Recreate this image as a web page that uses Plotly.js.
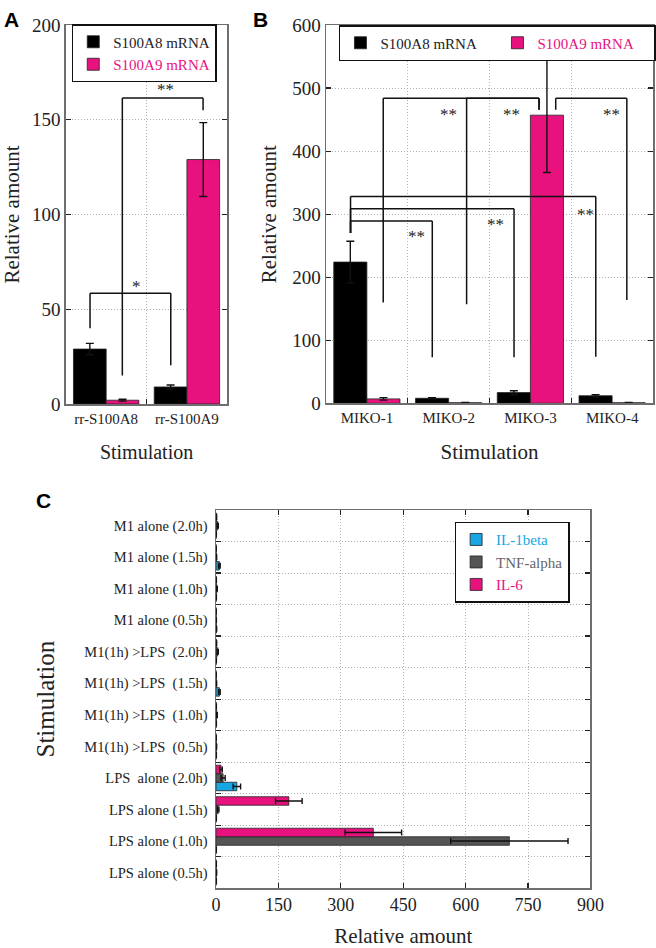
<!DOCTYPE html>
<html>
<head>
<meta charset="utf-8">
<script src="https://cdn.plot.ly/plotly-3.0.1.min.js"></script>
<style>html,body{margin:0;padding:0;background:#fff;}#chart{width:656px;height:948px;}</style>
</head>
<body>
<div id="chart"></div>
<script>
// ---------- Panel A data ----------
const catsA = ['rr-S100A8', 'rr-S100A9'];
const a8 = [29, 9];
const a8err = [3, 1];
const a9 = [2, 129];
const a9err = [0.5, 19.5];

// ---------- Panel B data ----------
const catsB = ['MIKO-1', 'MIKO-2', 'MIKO-3', 'MIKO-4'];
const b8 = [224, 8, 17, 12];
const b8err = [33, 1, 3, 1.5];
const b9 = [7, 1, 457, 1];
const b9err = [2, 0.5, 91, 0.3];

// ---------- Panel C data (bottom to top) ----------
const catsC = ['LPS alone (0.5h)', 'LPS alone (1.0h)', 'LPS alone (1.5h)', 'LPS\u00a0 alone (2.0h)',
  'M1(1h) >LPS\u00a0 (0.5h)', 'M1(1h) >LPS\u00a0 (1.0h)', 'M1(1h) >LPS\u00a0 (1.5h)', 'M1(1h) >LPS\u00a0 (2.0h)',
  'M1 alone (0.5h)', 'M1 alone (1.0h)', 'M1 alone (1.5h)', 'M1 alone (2.0h)'];
const il1b = [0.5, 0.5, 0.5, 50, 0.5, 0.5, 8, 0.5, 1, 0.5, 8, 0.5];
const il1bErr = [0.3, 0.3, 0.3, 9, 0.3, 0.3, 2, 0.3, 0.5, 0.3, 2, 0.3];
const tnf = [1, 705, 5, 17, 1, 2, 1, 4, 0.5, 2, 1, 4];
const tnfErr = [0.5, 141, 2, 5, 0.5, 1, 0.5, 1.5, 0.3, 1, 0.5, 1.5];
const il6 = [0.5, 378, 175, 12, 0.3, 0.5, 0.3, 1, 0.3, 0.5, 0.3, 1];
const il6Err = [0.3, 68, 32, 3, 0.2, 0.3, 0.2, 0.5, 0.2, 0.3, 0.2, 0.5];

// significance brackets: [leftX, rightX, top, leftLegEnd, rightLegEnd, label, labelX, labelY]
const bracketsA = [
  [0.2, 1.2, 161.5, 15, 155, '**', 0.74, 166],
  [-0.2, 0.8, 58.5, 40, 20.5, '*', 0.38, 62]
];
const bracketsB = [
  [0.2, 2.106, 484, 160, 465.5, '**', 1.0, 458],
  [1.22, 2.106, 484, 157, 465.5, '**', 1.77, 458],
  [2.31, 3.18, 484, 465.5, 164, '**', 2.99, 458],
  [-0.2, 0.8, 289, 270, 73, '**', 0.61, 265],
  [-0.2, 1.8, 308.4, 270, 73, '**', 1.57, 284],
  [-0.2, 2.8, 328, 270, 74, '**', 2.68, 299]
];

const SERIF = 'Liberation Serif';
const PINK = '#e8127f';
const BLUE = '#16a6e2';
const GRAY = '#555555';
const OUT = {color: '#222', width: 0.8};
const GRIDDASH = '1px,2px';

function axis(extra) {
  return Object.assign({
    showline: true, linecolor: '#6e6e6e', linewidth: 1.5, mirror: 'ticks',
    ticks: 'inside', ticklen: 5, tickwidth: 1.2, tickcolor: '#222',
    showgrid: true, gridcolor: '#b0b0b0', griddash: GRIDDASH, gridwidth: 1,
    zeroline: false, fixedrange: true,
    tickfont: {family: SERIF, size: 19, color: '#222'}
  }, extra);
}

const errY = (arr) => ({type: 'data', array: arr, visible: true, color: '#111', thickness: 1.4, width: 4});
const errX = (arr) => ({type: 'data', array: arr, visible: true, color: '#111', thickness: 1.4, width: 3});

const traces = [
  {type: 'bar', x: catsA, y: a8, name: 'S100A8 mRNA', marker: {color: '#000', line: OUT},
   error_y: errY(a8err), xaxis: 'x', yaxis: 'y', legend: 'legend'},
  {type: 'bar', x: catsA, y: a9, name: '<span style="color:' + PINK + '">S100A9 mRNA</span>', marker: {color: PINK, line: OUT},
   error_y: errY(a9err), xaxis: 'x', yaxis: 'y', legend: 'legend'},
  {type: 'bar', x: catsB, y: b8, name: 'S100A8 mRNA', marker: {color: '#000', line: OUT},
   error_y: errY(b8err), xaxis: 'x2', yaxis: 'y2', legend: 'legend2'},
  {type: 'bar', x: catsB, y: b9, name: '<span style="color:' + PINK + '">S100A9 mRNA</span>', marker: {color: PINK, line: OUT},
   error_y: errY(b9err), xaxis: 'x2', yaxis: 'y2', legend: 'legend2'},
  {type: 'bar', orientation: 'h', y: catsC, x: il1b, name: '<span style="color:' + BLUE + '">IL-1beta</span>', marker: {color: BLUE, line: OUT},
   error_x: errX(il1bErr), xaxis: 'x3', yaxis: 'y3', legend: 'legend3'},
  {type: 'bar', orientation: 'h', y: catsC, x: tnf, name: '<span style="color:#666">TNF-alpha</span>', marker: {color: GRAY, line: OUT},
   error_x: errX(tnfErr), xaxis: 'x3', yaxis: 'y3', legend: 'legend3'},
  {type: 'bar', orientation: 'h', y: catsC, x: il6, name: '<span style="color:' + PINK + '">IL-6</span>', marker: {color: PINK, line: OUT},
   error_x: errX(il6Err), xaxis: 'x3', yaxis: 'y3', legend: 'legend3'}
];

const shapes = [];
const annotations = [];
function addBrackets(list, xr, yr) {
  list.forEach(b => {
    const [x0, x1, top, l0, l1, lab, lx, ly] = b;
    const ln = {color: '#111', width: 1.5};
    shapes.push({type: 'line', xref: xr, yref: yr, x0: x0, x1: x0, y0: l0, y1: top, line: ln});
    shapes.push({type: 'line', xref: xr, yref: yr, x0: x0, x1: x1, y0: top, y1: top, line: ln});
    shapes.push({type: 'line', xref: xr, yref: yr, x0: x1, x1: x1, y0: top, y1: l1, line: ln});
    annotations.push({xref: xr, yref: yr, x: lx, y: ly, text: lab, showarrow: false,
      font: {family: SERIF, size: 17, color: '#222'}, xanchor: 'center', yanchor: 'middle'});
  });
}
addBrackets(bracketsA, 'x', 'y');
addBrackets(bracketsB, 'x2', 'y2');

[['A', 2, 6], ['B', 252, 6], ['C', 34, 487]].forEach(p => {
  annotations.push({xref: 'paper', yref: 'paper', x: p[1] / 656, y: 1 - p[2] / 948, xanchor: 'left', yanchor: 'top',
    text: '<b>' + p[0] + '</b>', showarrow: false, font: {family: 'Liberation Sans', size: 21, color: '#000'}});
});

const legendBase = {bgcolor: '#fff', bordercolor: '#111', borderwidth: 1.5,
  font: {family: SERIF, size: 15, color: '#222'}, xanchor: 'left', yanchor: 'top'};

const layout = {
  width: 656, height: 948,
  margin: {l: 0, r: 0, t: 0, b: 0},
  paper_bgcolor: '#fff', plot_bgcolor: '#fff',
  font: {family: SERIF},
  barmode: 'group', bargap: 0.19, bargroupgap: 0,
  showlegend: true,
  xaxis: axis({domain: [66 / 656, 228 / 656], anchor: 'y', type: 'category', tickson: 'boundaries', range: [-0.5, 1.5],
    tickfont: {family: SERIF, size: 15, color: '#222'},
    title: {text: 'Stimulation', font: {family: SERIF, size: 20, color: '#222'}, standoff: 19}}),
  yaxis: axis({domain: [1 - 404 / 948, 1 - 25 / 948], anchor: 'x', range: [0, 200], dtick: 50,
    title: {text: 'Relative amount', font: {family: SERIF, size: 21, color: '#222'}, standoff: 10}}),
  xaxis2: axis({domain: [327 / 656, 655 / 656], anchor: 'y2', type: 'category', tickson: 'boundaries', range: [-0.5, 3.5],
    tickfont: {family: SERIF, size: 15, color: '#222'},
    title: {text: 'Stimulation', font: {family: SERIF, size: 21, color: '#222'}, standoff: 19}}),
  yaxis2: axis({domain: [1 - 403.3 / 948, 1 - 25 / 948], anchor: 'x2', range: [0, 600], dtick: 100,
    title: {text: 'Relative amount', font: {family: SERIF, size: 21, color: '#222'}, standoff: 10}}),
  xaxis3: axis({domain: [216.7 / 656, 592.3 / 656], anchor: 'y3', range: [0, 900], dtick: 150,
    tickfont: {family: SERIF, size: 18, color: '#222'},
    title: {text: 'Relative amount', font: {family: SERIF, size: 21, color: '#222'}, standoff: 14}}),
  yaxis3: axis({domain: [1 - 888.3 / 948, 1 - 510 / 948], anchor: 'x3', type: 'category', tickson: 'boundaries', range: [-0.5, 11.5],
    tickfont: {family: SERIF, size: 14.5, color: '#222'}, ticklabelstandoff: 4,
    title: {text: 'Stimulation', font: {family: SERIF, size: 25, color: '#222'}, standoff: 22}}),
  legend: Object.assign({}, legendBase, {x: 72 / 656, y: 1 - 24 / 948}),
  legend2: Object.assign({}, legendBase, {x: 340 / 656, y: 1 - 25 / 948, orientation: 'h', entrywidth: 112, entrywidthmode: 'pixels'}),
  legend3: Object.assign({}, legendBase, {x: 456 / 656, y: 1 - 521.7 / 948}),
  shapes: shapes,
  annotations: annotations
};

Plotly.newPlot('chart', traces, layout, {displayModeBar: false, staticPlot: true});
</script>
</body>
</html>
